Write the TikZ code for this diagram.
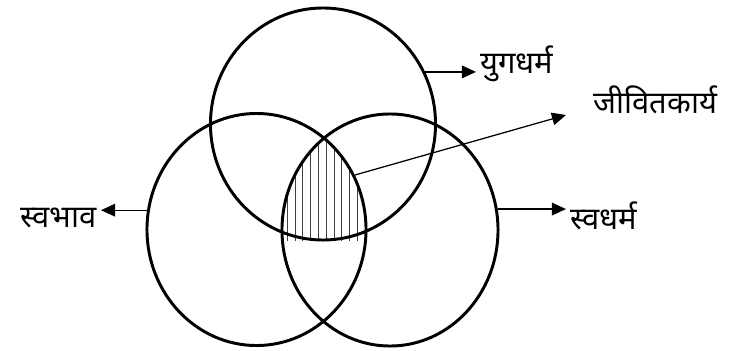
\documentclass[tikz,border=0pt]{standalone}
\usepackage{fontspec}
\newfontfamily\deva[Script=Devanagari]{Noto Sans}
\usetikzlibrary{positioning,arrows.meta,shapes.geometric}

\begin{document}
\begin{tikzpicture}[x=0.025cm, y=-0.025cm, >={Triangle[length=10pt,width=9pt]},
  ring/.style={draw, ellipse, line width=2.1pt, inner sep=0pt, minimum height=5.8cm},
  lbl/.style={font=\deva\fontsize{22}{24}\selectfont, inner sep=3pt},
  pointer/.style={->, line width=0.9pt}]
\useasboundingbox (0,0) rectangle (733,350);
\begin{scope}
\clip (256.5,229.5) ellipse [x radius=2.7375cm, y radius=2.9cm];
\clip (390,230) ellipse [x radius=2.7cm, y radius=2.9cm];
\clip (0,0) rectangle (733,240);
\foreach \x in {287,294.8,...,360}
  \draw[black!75, line width=0.4pt] (\x,100) -- (\x,250);
\end{scope}
\node[ring, minimum width=5.625cm] (yug) at (323,124) {};
\node[ring, minimum width=5.475cm] (swb) at (256.5,229.5) {};
\node[ring, minimum width=5.4cm] (swd) at (390,230) {};
\node[lbl, anchor=west] (yugtxt) at (476,64) {युगधर्म};
\node[lbl, anchor=west] (jivtxt) at (589,100) {जीवितकार्य};
\node[lbl, anchor=east] (swbtxt) at (101,218) {स्वभाव};
\node[lbl, anchor=west] (swdtxt) at (566,216) {स्वधर्म};
\coordinate (core) at (355,175);
\coordinate (jivtip) at (566,115);
\draw[pointer] (yug.27) -- (yug.27 -| yugtxt.west);
\draw[pointer] (swb.170) -- (swb.170 -| swbtxt.east);
\draw[pointer] (swd.11) -- (swd.11 -| swdtxt.west);
\draw[pointer] (core) -- (jivtip);
\end{tikzpicture}
\end{document}
